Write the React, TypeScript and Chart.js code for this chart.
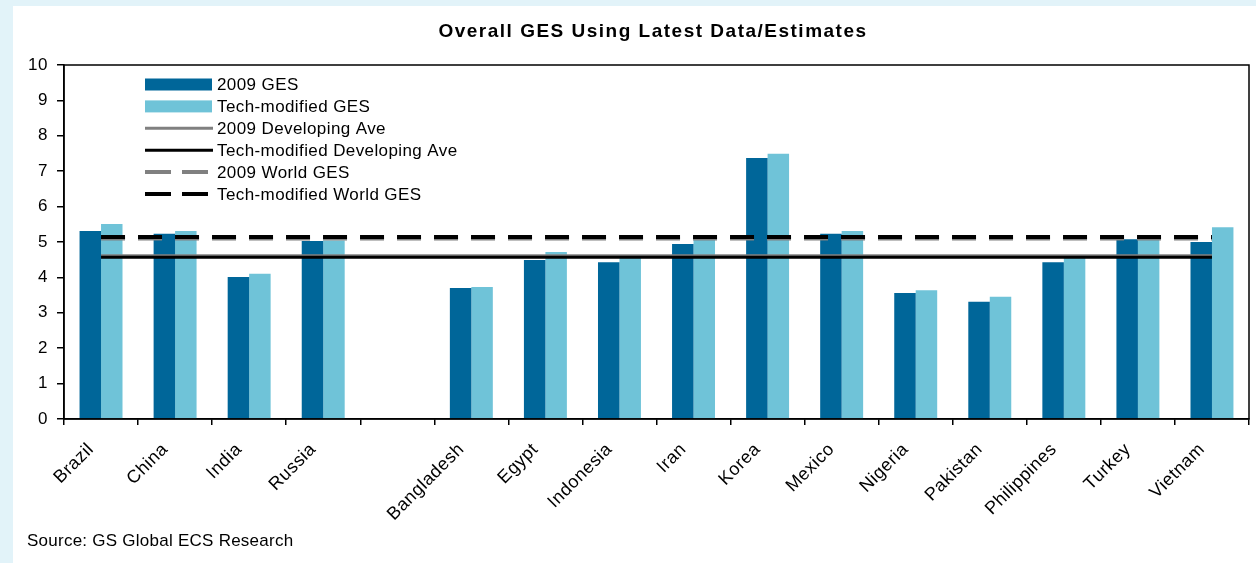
import { useEffect, useRef } from "react";
import { Chart, registerables } from "chart.js";

Chart.register(...registerables);

const FONT = "'Liberation Sans', Arial, Helvetica, sans-serif";

const titleText = "Overall GES Using Latest Data/Estimates";
const sourceText = "Source: GS Global ECS Research";

const categories = [
  "Brazil", "China", "India", "Russia", "",
  "Bangladesh", "Egypt", "Indonesia", "Iran", "Korea",
  "Mexico", "Nigeria", "Pakistan", "Philippines", "Turkey", "Vietnam",
];
const ges2009 = [5.31, 5.23, 4.01, 5.03, null, 3.70, 4.49, 4.43, 4.94, 7.37, 5.23, 3.56, 3.31, 4.43, 5.08, 5.00];
const gesTech = [5.51, 5.31, 4.10, 5.04, null, 3.73, 4.72, 4.55, 5.17, 7.49, 5.31, 3.64, 3.45, 4.55, 5.14, 5.42];
const devAve2009 = 4.61;
const devAveTech = 4.57;
const worldGes2009 = 5.10;
const worldGesTech = 5.14;
const yTicks = [0, 1, 2, 3, 4, 5, 6, 7, 8, 9, 10];

const DARK = "#006699";
const LIGHT = "#6FC3D8";
const GRAY = "#808080";

const refLine = (v: number) => [
  { x: categories[0], y: v },
  { x: categories[categories.length - 1], y: v },
];

const spacingPlugin = {
  id: "spacing",
  beforeLayout(chart: any) {
    chart.ctx.letterSpacing = "0.5px";
  },
  beforeDraw(chart: any) {
    chart.ctx.letterSpacing = "0.5px";
  },
};

const titlePlugin = {
  id: "customTitle",
  afterDraw(chart: any) {
    const ctx = chart.ctx;
    ctx.save();
    ctx.font = `bold 19px ${FONT}`;
    ctx.letterSpacing = "1.5px";
    ctx.fillStyle = "#000";
    ctx.textAlign = "center";
    ctx.textBaseline = "middle";
    ctx.fillText(titleText, 640, 26);
    ctx.restore();
  },
};

const framePlugin = {
  id: "frame",
  afterDraw(chart: any) {
    const { ctx, chartArea } = chart;
    ctx.save();
    ctx.strokeStyle = "#000";
    ctx.lineWidth = 1.5;
    ctx.strokeRect(chartArea.left, chartArea.top, chartArea.right - chartArea.left, chartArea.bottom - chartArea.top);
    ctx.restore();
  },
};

const legendPlugin = {
  id: "innerLegend",
  afterDraw(chart: any) {
    const ctx = chart.ctx;
    const x0 = 132;
    const x1 = 199;
    const textX = 204;
    const y0 = 78.5;
    const dy = 21.9;
    ctx.save();
    ctx.font = `17px ${FONT}`;
    ctx.letterSpacing = "0.4px";
    ctx.textBaseline = "middle";
    ctx.textAlign = "left";
    chart.data.datasets.forEach((ds: any, i: number) => {
      const y = y0 + i * dy;
      if (ds.type === "bar") {
        ctx.fillStyle = ds.backgroundColor;
        ctx.fillRect(x0, y - 6, x1 - x0, 12);
      } else {
        ctx.beginPath();
        ctx.strokeStyle = ds.borderColor;
        ctx.lineWidth = ds.borderWidth;
        ctx.setLineDash(ds.borderDash ? [26, 11] : []);
        ctx.moveTo(x0, y);
        ctx.lineTo(x1 + 1, y);
        ctx.stroke();
        ctx.setLineDash([]);
      }
      ctx.fillStyle = "#000";
      ctx.fillText(ds.label, textX, y + 1);
    });
    ctx.restore();
  },
};

export default function App() {
  const ref = useRef<HTMLCanvasElement>(null);

  useEffect(() => {
    Chart.defaults.font.family = FONT;
    const chart = new Chart(ref.current as HTMLCanvasElement, {
      type: "bar",
      data: {
        labels: categories,
        datasets: [
          { type: "bar", label: "2009 GES", data: ges2009, backgroundColor: DARK, order: 10, categoryPercentage: 0.58, barPercentage: 1 } as any,
          { type: "bar", label: "Tech-modified GES", data: gesTech, backgroundColor: LIGHT, order: 10, categoryPercentage: 0.58, barPercentage: 1 } as any,
          { type: "line", label: "2009 Developing Ave", data: refLine(devAve2009), borderColor: GRAY, borderWidth: 3, pointRadius: 0, order: 4 } as any,
          { type: "line", label: "Tech-modified Developing Ave", data: refLine(devAveTech), borderColor: "#000", borderWidth: 3, pointRadius: 0, order: 3 } as any,
          { type: "line", label: "2009 World GES", data: refLine(worldGes2009), borderColor: GRAY, borderWidth: 4, borderDash: [24, 13], pointRadius: 0, order: 2 } as any,
          { type: "line", label: "Tech-modified World GES", data: refLine(worldGesTech), borderColor: "#000", borderWidth: 4, borderDash: [24, 13], pointRadius: 0, order: 1 } as any,
        ],
      },
      options: {
        animation: false,
        responsive: false,
        layout: { padding: { top: 59, right: 7, left: 0, bottom: 0 } },
        plugins: {
          legend: { display: false },
          title: { display: false },
          tooltip: { enabled: false },
        },
        scales: {
          x: {
            grid: { display: true, drawOnChartArea: false, drawTicks: true, tickLength: 6, color: "#000", lineWidth: 1.5, offset: true },
            border: { display: true, color: "#000", width: 1.5 },
            ticks: { minRotation: 45, maxRotation: 45, autoSkip: false, color: "#000", font: { size: 18, family: FONT }, padding: 14, labelOffset: -10 },
            afterFit: (s: any) => { s.height = 144; },
          },
          y: {
            min: 0,
            max: 10,
            afterBuildTicks: (s: any) => { s.ticks = yTicks.map((v) => ({ value: v })); },
            ticks: { color: "#000", font: { size: 17, family: FONT }, padding: 9 },
            grid: { display: true, drawOnChartArea: false, drawTicks: true, tickLength: 7, color: "#000", lineWidth: 1.5 },
            border: { display: true, color: "#000", width: 1.5 },
            afterFit: (s: any) => { s.width = 51; },
          },
        },
      },
      plugins: [spacingPlugin, titlePlugin, framePlugin, legendPlugin],
    });
    return () => chart.destroy();
  }, []);

  return (
    <div style={{ position: "fixed", left: 0, top: 0, width: 1256, height: 563, background: "#E2F3F9", overflow: "hidden" }}>
      <div style={{ position: "absolute", left: 13, top: 6, width: 1243, height: 557, background: "#fff" }}>
        <canvas ref={ref} width={1243} height={557} style={{ display: "block" }} />
        <div style={{ position: "absolute", left: 14, top: 525, fontFamily: FONT, fontSize: 17, letterSpacing: "0.25px", color: "#000", whiteSpace: "nowrap" }}>
          {sourceText}
        </div>
      </div>
    </div>
  );
}
